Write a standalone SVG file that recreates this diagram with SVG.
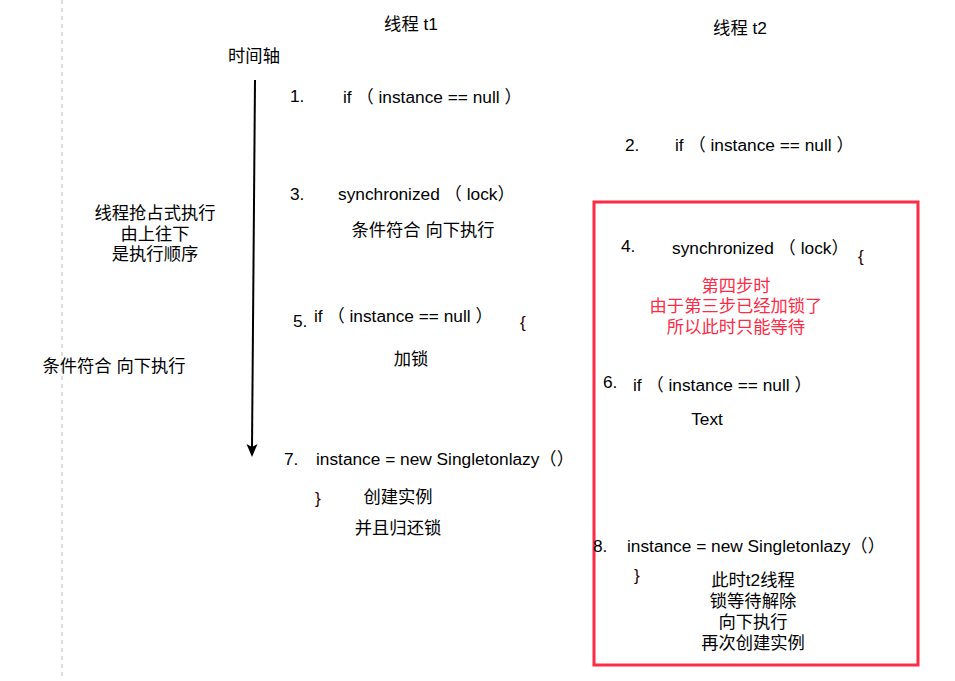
<svg xmlns="http://www.w3.org/2000/svg" width="955" height="681" viewBox="0 0 955 681" xml:space="preserve">
<defs>
<style>
text{font-family:"Liberation Sans","Noto Sans CJK SC",sans-serif;font-size:17.3px;fill:#000}
.c{text-anchor:middle}
.r{fill:#ff2a45}
.b{fill:#330000}
</style>
</defs>
<rect width="955" height="681" fill="#fff"/>
<line x1="62" y1="0" x2="62" y2="678" stroke="#bbb" stroke-width="1" stroke-dasharray="4 4"/>
<g id="connectors">
<line x1="255" y1="80" x2="252" y2="448" stroke="#000" stroke-width="2"/>
<path d="M246.5,444 L252,457 L257.5,444 L252,447 Z" fill="#000"/>
</g>
<g id="box-t2">
<rect x="594" y="202" width="324" height="463" fill="none" stroke="#ff2a45" stroke-width="3"/>
</g>
<g id="labels">
<text class="c" x="411" y="30">线程 t1</text>
<text class="c" x="740" y="34">线程 t2</text>
<text class="c" x="254" y="62">时间轴</text>
<text class="c" x="155" y="219">线程抢占式执行</text>
<text class="c" x="155" y="240">由上往下</text>
<text class="c" x="155" y="260">是执行顺序</text>
<text class="c" x="114" y="372">条件符合 向下执行</text>
</g>
<g id="step1">
<text x="290" y="102">1.</text>
<text x="343" y="103">if （ instance == null ）</text>
</g>
<g id="step2">
<text x="625" y="151">2.</text>
<text x="675" y="151">if （ instance == null ）</text>
</g>
<g id="step3">
<text x="290" y="200">3.</text>
<text x="338" y="200">synchronized （ lock）</text>
<text class="c" x="423" y="236">条件符合 向下执行</text>
</g>
<g id="step4">
<text x="621" y="252">4.</text>
<text x="672" y="254">synchronized （ lock）</text>
<text class="b" x="858" y="262">{</text>
<text class="c r" x="736" y="292">第四步时</text>
<text class="c r" x="736" y="312">由于第三步已经加锁了</text>
<text class="c r" x="736" y="333">所以此时只能等待</text>
</g>
<g id="step5">
<text x="293" y="327">5.</text>
<text x="314" y="322">if （ instance == null ）</text>
<text class="b" x="520" y="328">{</text>
<text class="c" x="411" y="365">加锁</text>
</g>
<g id="step6">
<text x="603" y="388">6.</text>
<text x="633" y="391">if （ instance == null ）</text>
<text class="c" x="707" y="425">Text</text>
</g>
<g id="step7">
<text x="284" y="465">7.</text>
<text x="316" y="465">instance = new Singletonlazy（）</text>
<text class="b" x="315" y="504">}</text>
<text class="c" x="398" y="503">创建实例</text>
<text class="c" x="398" y="534">并且归还锁</text>
</g>
<g id="step8">
<text x="593" y="552">8.</text>
<text x="627" y="552">instance = new Singletonlazy（）</text>
<text class="b" x="634" y="581">}</text>
<text class="c" x="753" y="586">此时t2线程</text>
<text class="c" x="753" y="607">锁等待解除</text>
<text class="c" x="753" y="628">向下执行</text>
<text class="c" x="753" y="649">再次创建实例</text>
</g>
</svg>
